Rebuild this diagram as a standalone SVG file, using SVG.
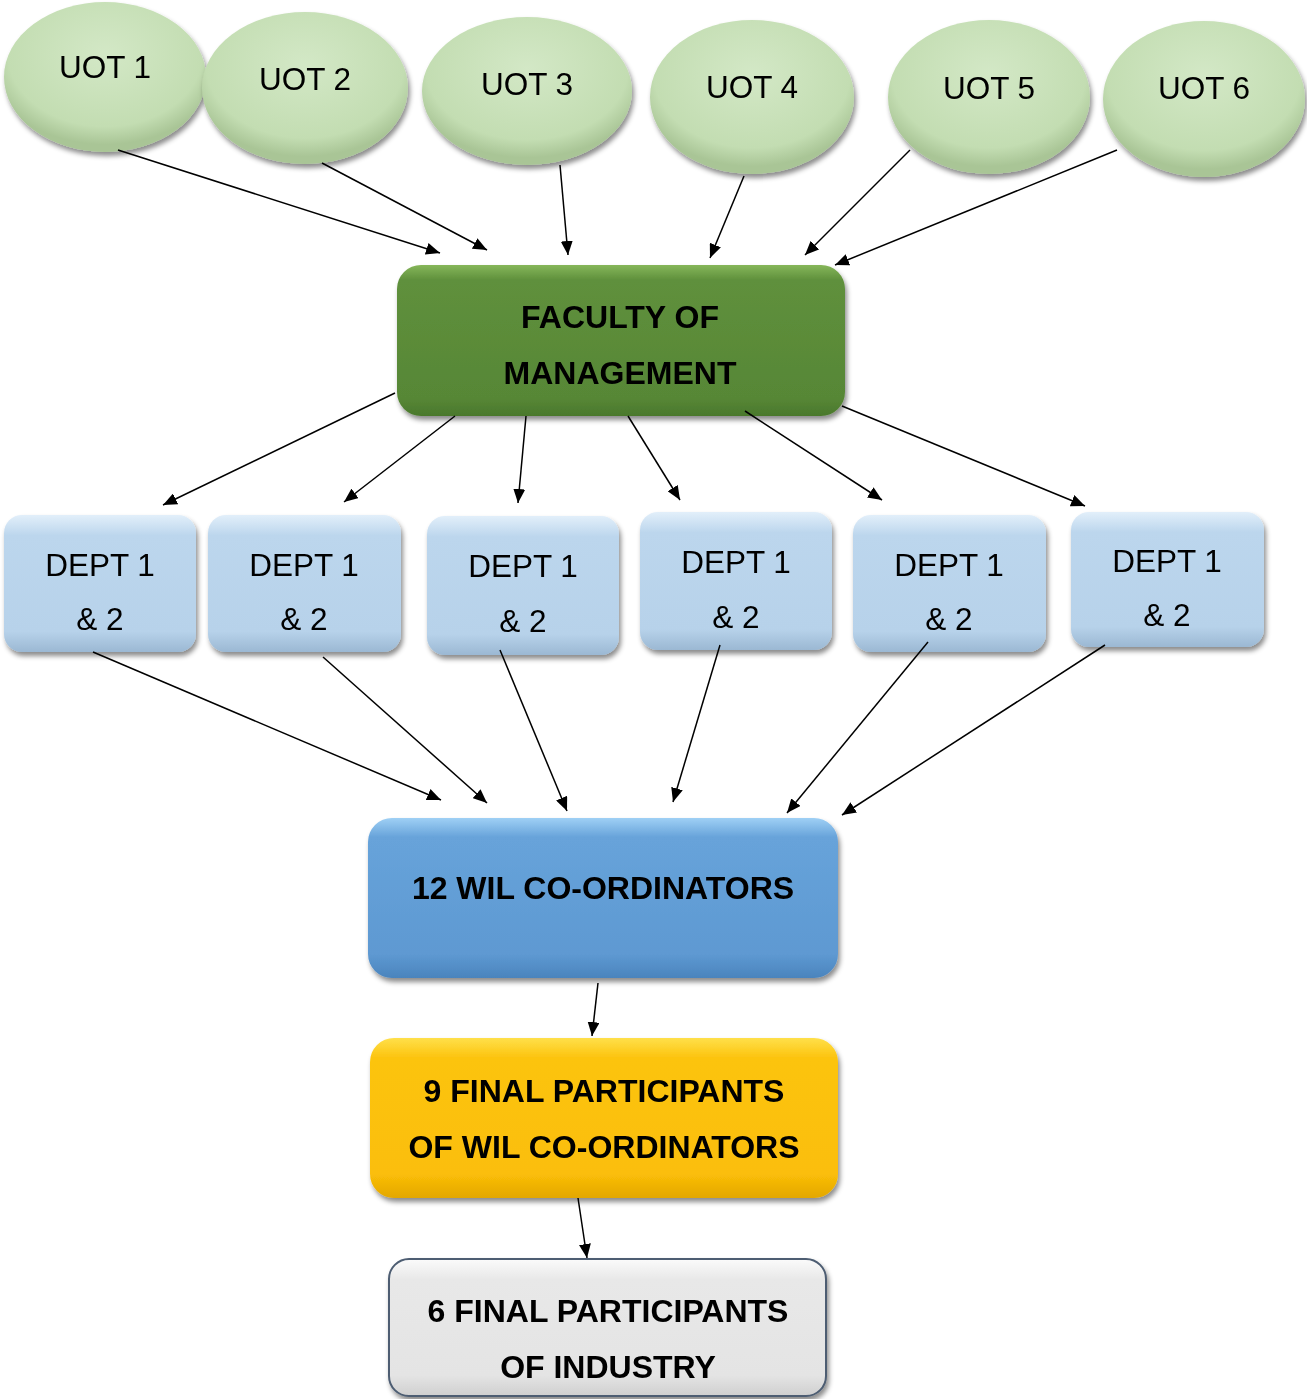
<svg xmlns="http://www.w3.org/2000/svg" width="1307" height="1399" viewBox="0 0 1307 1399">
  <style>
    .lbl { font-family: "Liberation Sans", Arial, sans-serif; font-size: 31.5px; fill: #000; text-anchor: middle; }
    .bold { font-weight: bold; font-size: 32px; }
    .edge { stroke: #000; stroke-width: 1.5; fill: none; marker-end: url(#arrow); }
  </style>
  <defs>
    <marker id="arrow" viewBox="0 0 14 12" refX="14" refY="6" markerWidth="14" markerHeight="12" markerUnits="userSpaceOnUse" orient="auto">
      <path d="M0,0 L14,6 L0,12 z" fill="#000"/>
    </marker>
    <filter id="shadow" x="-10%" y="-10%" width="125%" height="130%">
      <feDropShadow dx="2" dy="4" stdDeviation="2.5" flood-color="#000" flood-opacity="0.45"/>
    </filter>
    <radialGradient id="gOval" cx="0.5" cy="0.35" r="0.6">
      <stop offset="0" stop-color="#d3e8c6"/>
      <stop offset="0.8" stop-color="#c3ddb2"/>
      <stop offset="1" stop-color="#a9c596"/>
    </radialGradient>
    <linearGradient id="gFac" x1="0" y1="0" x2="0" y2="1">
      <stop offset="0" stop-color="#86b65a"/>
      <stop offset="0.1" stop-color="#5f903c"/>
      <stop offset="0.88" stop-color="#578736"/>
      <stop offset="1" stop-color="#4a782c"/>
    </linearGradient>
    <linearGradient id="gDept" x1="0" y1="0" x2="0" y2="1">
      <stop offset="0" stop-color="#e2effa"/>
      <stop offset="0.15" stop-color="#bcd6ed"/>
      <stop offset="0.85" stop-color="#b7d2ea"/>
      <stop offset="1" stop-color="#9bb8d3"/>
    </linearGradient>
    <linearGradient id="gWil" x1="0" y1="0" x2="0" y2="1">
      <stop offset="0" stop-color="#9fd0f5"/>
      <stop offset="0.12" stop-color="#67a3da"/>
      <stop offset="0.85" stop-color="#5e99d2"/>
      <stop offset="1" stop-color="#4a84bd"/>
    </linearGradient>
    <linearGradient id="gYel" x1="0" y1="0" x2="0" y2="1">
      <stop offset="0" stop-color="#ffe04a"/>
      <stop offset="0.12" stop-color="#fcc410"/>
      <stop offset="0.85" stop-color="#fbbe08"/>
      <stop offset="1" stop-color="#e3a700"/>
    </linearGradient>
    <linearGradient id="gGrey" x1="0" y1="0" x2="0" y2="1">
      <stop offset="0" stop-color="#fbfbfb"/>
      <stop offset="0.15" stop-color="#e8e8e8"/>
      <stop offset="0.85" stop-color="#e4e4e4"/>
      <stop offset="1" stop-color="#cfcfcf"/>
    </linearGradient>
  </defs>

  <!-- university of technology sources -->
  <g id="uot1" filter="url(#shadow)"><ellipse cx="105" cy="77" rx="101" ry="75" fill="url(#gOval)"/><text class="lbl" x="105" y="78">UOT 1</text></g>
  <g id="uot2" filter="url(#shadow)"><ellipse cx="305" cy="88" rx="103" ry="76" fill="url(#gOval)"/><text class="lbl" x="305" y="90">UOT 2</text></g>
  <g id="uot3" filter="url(#shadow)"><ellipse cx="527" cy="91" rx="105" ry="74" fill="url(#gOval)"/><text class="lbl" x="527" y="95">UOT 3</text></g>
  <g id="uot4" filter="url(#shadow)"><ellipse cx="752" cy="97" rx="102" ry="77" fill="url(#gOval)"/><text class="lbl" x="752" y="98">UOT 4</text></g>
  <g id="uot5" filter="url(#shadow)"><ellipse cx="989" cy="97" rx="101" ry="77" fill="url(#gOval)"/><text class="lbl" x="989" y="99">UOT 5</text></g>
  <g id="uot6" filter="url(#shadow)"><ellipse cx="1204" cy="99" rx="101" ry="78" fill="url(#gOval)"/><text class="lbl" x="1204" y="99">UOT 6</text></g>

  <!-- faculty -->
  <g id="faculty" filter="url(#shadow)">
    <rect x="397" y="265" width="448" height="151" rx="24" fill="url(#gFac)"/>
    <text class="lbl bold" x="620" y="328">FACULTY OF</text>
    <text class="lbl bold" x="620" y="384">MANAGEMENT</text>
  </g>

  <!-- departments -->
  <g id="dept1" filter="url(#shadow)"><rect x="4" y="515" width="192" height="137" rx="18" fill="url(#gDept)"/><text class="lbl" x="100" y="576">DEPT 1</text><text class="lbl" x="100" y="630">&amp; 2</text></g>
  <g id="dept2" filter="url(#shadow)"><rect x="208" y="515" width="193" height="137" rx="18" fill="url(#gDept)"/><text class="lbl" x="304" y="576">DEPT 1</text><text class="lbl" x="304" y="630">&amp; 2</text></g>
  <g id="dept3" filter="url(#shadow)"><rect x="427" y="516" width="192" height="139" rx="18" fill="url(#gDept)"/><text class="lbl" x="523" y="577">DEPT 1</text><text class="lbl" x="523" y="632">&amp; 2</text></g>
  <g id="dept4" filter="url(#shadow)"><rect x="640" y="512" width="192" height="138" rx="18" fill="url(#gDept)"/><text class="lbl" x="736" y="573">DEPT 1</text><text class="lbl" x="736" y="628">&amp; 2</text></g>
  <g id="dept5" filter="url(#shadow)"><rect x="853" y="515" width="193" height="137" rx="18" fill="url(#gDept)"/><text class="lbl" x="949" y="576">DEPT 1</text><text class="lbl" x="949" y="630">&amp; 2</text></g>
  <g id="dept6" filter="url(#shadow)"><rect x="1071" y="512" width="193" height="135" rx="18" fill="url(#gDept)"/><text class="lbl" x="1167" y="572">DEPT 1</text><text class="lbl" x="1167" y="626">&amp; 2</text></g>

  <!-- co-ordinators -->
  <g id="coordinators" filter="url(#shadow)">
    <rect x="368" y="818" width="470" height="160" rx="24" fill="url(#gWil)"/>
    <text class="lbl bold" x="603" y="899">12 WIL CO-ORDINATORS</text>
  </g>

  <g id="final-wil" filter="url(#shadow)">
    <rect x="370" y="1038" width="468" height="160" rx="24" fill="url(#gYel)"/>
    <text class="lbl bold" x="604" y="1102">9 FINAL PARTICIPANTS</text>
    <text class="lbl bold" x="604" y="1158">OF WIL CO-ORDINATORS</text>
  </g>

  <g id="final-industry" filter="url(#shadow)">
    <rect x="389" y="1259" width="437" height="137" rx="20" fill="url(#gGrey)" stroke="#4d5d72" stroke-width="2"/>
    <text class="lbl bold" x="608" y="1322">6 FINAL PARTICIPANTS</text>
    <text class="lbl bold" x="608" y="1378">OF INDUSTRY</text>
  </g>

  <!-- connectors -->
  <g id="connectors">
    <line class="edge" x1="118" y1="150" x2="440" y2="253"/>
    <line class="edge" x1="322" y1="163" x2="487" y2="250"/>
    <line class="edge" x1="560" y1="165" x2="568" y2="255"/>
    <line class="edge" x1="744" y1="176" x2="710" y2="258"/>
    <line class="edge" x1="910" y1="150" x2="805" y2="255"/>
    <line class="edge" x1="1117" y1="150" x2="835" y2="265"/>

    <line class="edge" x1="395" y1="393" x2="163" y2="505"/>
    <line class="edge" x1="455" y1="416" x2="344" y2="502"/>
    <line class="edge" x1="526" y1="416" x2="518" y2="503"/>
    <line class="edge" x1="628" y1="416" x2="680" y2="500"/>
    <line class="edge" x1="745" y1="411" x2="882" y2="500"/>
    <line class="edge" x1="842" y1="406" x2="1085" y2="506"/>

    <line class="edge" x1="93" y1="652" x2="441" y2="800"/>
    <line class="edge" x1="323" y1="657" x2="487" y2="803"/>
    <line class="edge" x1="500" y1="650" x2="567" y2="811"/>
    <line class="edge" x1="720" y1="645" x2="673" y2="802"/>
    <line class="edge" x1="928" y1="642" x2="787" y2="813"/>
    <line class="edge" x1="1105" y1="645" x2="842" y2="815"/>

    <line class="edge" x1="598" y1="983" x2="592" y2="1036"/>
    <line class="edge" x1="578" y1="1198" x2="587" y2="1258"/>
  </g>
</svg>
